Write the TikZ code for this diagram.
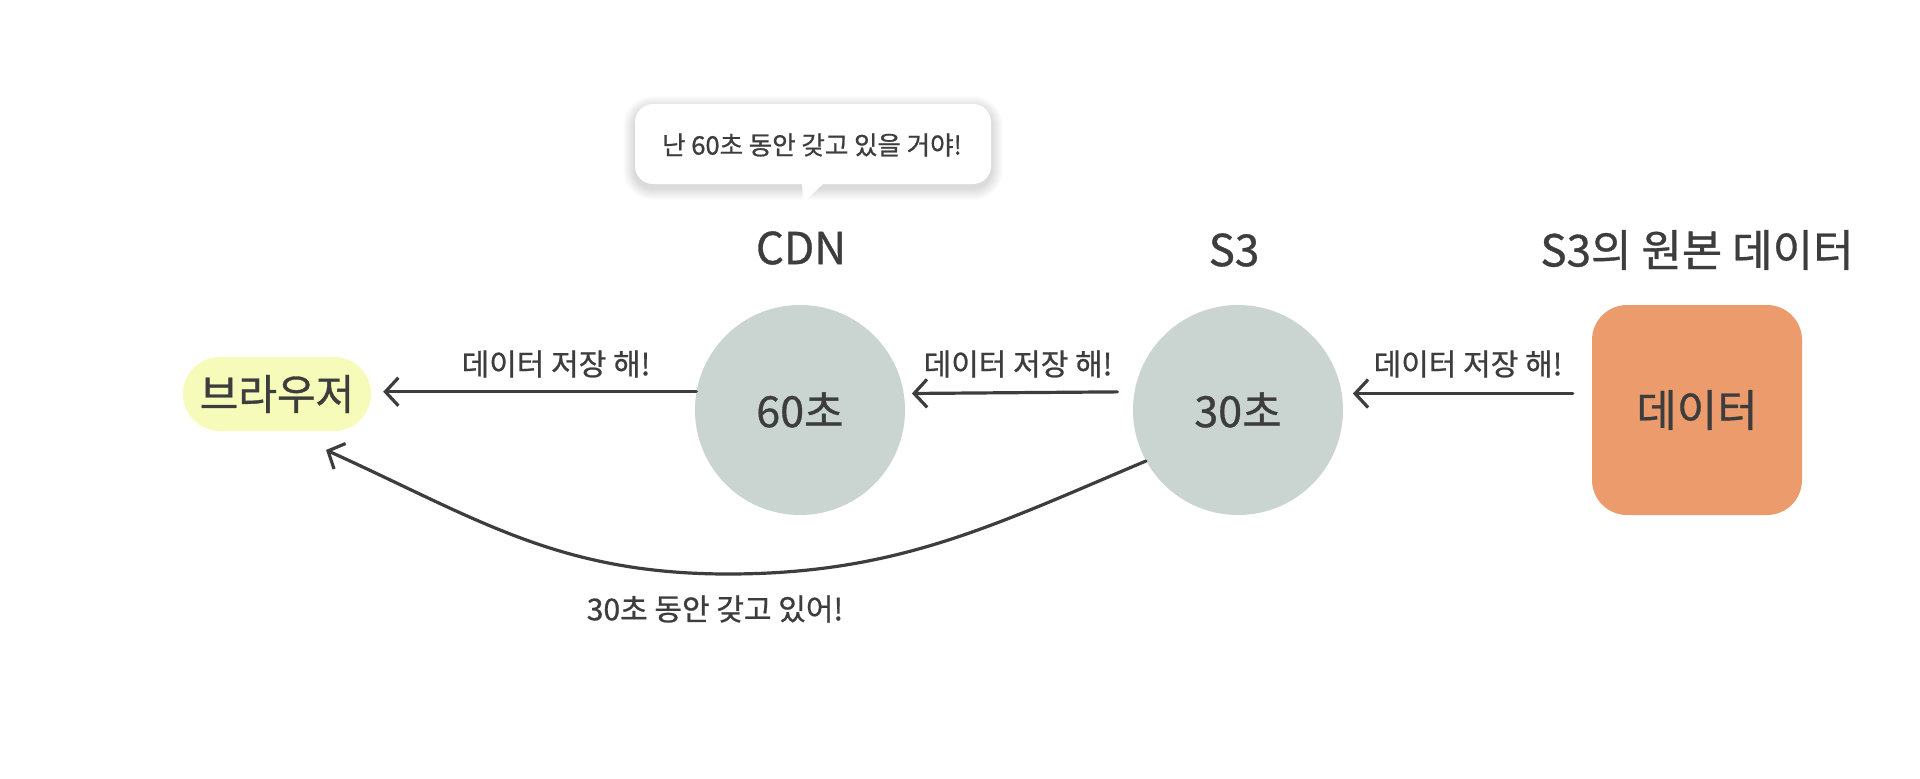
\documentclass[tikz,border=0pt]{standalone}
\usepackage{fontspec}
\setmainfont{Noto Sans CJK KR}[FakeBold=0.8]
\usetikzlibrary{arrows.meta,shapes.misc}
\definecolor{ink}{HTML}{3D3D3D}
\definecolor{circfill}{HTML}{CAD4D1}
\definecolor{boxfill}{HTML}{EC9B6D}
\definecolor{pillfill}{HTML}{F7FBB9}
\begin{document}
\begin{tikzpicture}[x=1pt,y=-1pt,
  every node/.style={text=ink, inner sep=0pt},
  conn/.style={draw=ink, line width=3.2pt, line cap=round,
    -{Straight Barb[length=13pt,width=28pt,line width=3.2pt]}},
  titletxt/.style={font=\fontsize{44}{50}\selectfont},
  bodytxt/.style={font=\fontsize{43}{49}\selectfont},
  lbl/.style={font=\fontsize{30}{34}\selectfont},
  bubtxt/.style={font=\fontsize{25.5}{30}\selectfont},
  cachenode/.style={circle, fill=circfill, minimum size=210pt, bodytxt},
]
\useasboundingbox (0,0) rectangle (1920,779);
\fill[white] (0,0) rectangle (1920,779);

% nodes
\node[rounded rectangle, fill=pillfill, minimum width=188pt, minimum height=74pt,
      font=\fontsize{42}{48}\selectfont] (browser) at (277,394) {브라우저};
\node[cachenode] (cdn) at (800,410) {60초};
\node[cachenode] (s3) at (1238,410) {30초};
\node[rectangle, rounded corners=35pt, fill=boxfill, minimum size=210pt,
      font=\fontsize{44}{50}\selectfont] (data) at (1697,410) {데이터};

% titles
\node[titletxt] (cdnT) at (801,248) {CDN};
\node[titletxt] (s3T) at (1234,250) {S3};
\node[titletxt] (dataT) at (1697,250) {S3의 원본 데이터};

% speech bubble with soft shadow
\foreach \i in {1,...,12}{
  \fill[black, opacity=0.012, rounded corners={18+\i}] ({635-\i},{108-\i}) rectangle ({991+\i},{188+\i});
}
\fill[white, rounded corners=18pt] (635,104) rectangle (991,184);
\fill[white] (802,182) -- (803,203) -- (825,182) -- cycle;
\node[bubtxt] (bub) at (812,145) {난 60초 동안 갖고 있을 거야!};

% connectors
\draw[conn, shorten >=12pt] (cdn.170.7) -- (browser.east |- cdn.170.7);
\draw[conn, shorten <=17pt, shorten >=8pt] (s3.170.7) -- (cdn.9.3);
\draw[conn, shorten <=19pt, shorten >=11pt] (data.west |- s3.9.3) -- (s3.9.3);

\coordinate (btip) at (326,450);
\draw[conn] (s3.209) .. controls (994,525) and (898,574) .. (728,574)
            .. controls (558,574) and (476,518) .. (btip);

% connector labels
\node[lbl] (l1) at (556,364) {데이터 저장 해!};
\node[lbl] (l2) at (1018,364) {데이터 저장 해!};
\node[lbl] (l3) at (1468,364) {데이터 저장 해!};
\node[lbl] (l4) at (715,609) {30초 동안 갖고 있어!};
\end{tikzpicture}
\end{document}
